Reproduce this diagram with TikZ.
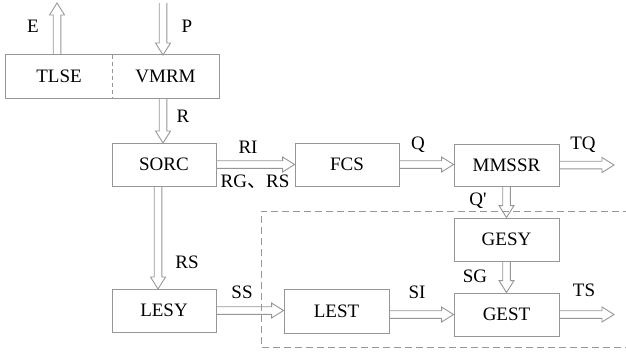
\documentclass[tikz,border=0pt]{standalone}
\usepackage{fontspec}
\setmainfont{Liberation Serif}
\newfontfamily\cjk{Noto Sans CJK SC}
\usetikzlibrary{calc}
\definecolor{lg}{RGB}{150,150,150}
\tikzset{
  box/.style={draw=lg, line width=0.9pt, minimum width=105pt, minimum height=43pt, inner sep=0pt, font=\fontsize{19}{20}\selectfont},
  plain/.style={minimum width=105pt, minimum height=43pt, inner sep=0pt, font=\fontsize{19}{20}\selectfont},
  lbl/.style={font=\fontsize{19}{20}\selectfont, inner sep=0pt},
  harrow/.style={draw=lg, line width=0.9pt, line join=miter},
  region/.style={draw=lg, line width=0.9pt, dash pattern=on 7pt off 4pt},
}
\newcommand\hollowarrow[2]{%
  \coordinate (hah) at ($(#2)!12pt!(#1)$);
  \draw[harrow] ($(#1)!3.8pt!90:(#2)$) -- ($(hah)!3.8pt!-90:(#1)$) -- ($(hah)!7.5pt!-90:(#1)$) -- (#2) -- ($(hah)!7.5pt!90:(#1)$) -- ($(hah)!3.8pt!90:(#1)$) -- ($(#1)!3.8pt!-90:(#2)$);}
\begin{document}
\begin{tikzpicture}[x=1pt,y=-1pt]
\useasboundingbox (0,0) rectangle (626,353);
% dashed region
\draw[region] (630,211) -- (261,211) -- (261,347) -- (630,347);
% top combined box
\node[plain, minimum width=106pt] (tlse) at (59,76.5) {TLSE};
\node[plain, minimum width=107pt] (vmrm) at (165.5,76.5) {VMRM};
\draw[lg, line width=0.9pt] (tlse.north west) rectangle (vmrm.south east);
\draw[lg, line width=0.9pt, dash pattern=on 4pt off 3pt] (tlse.north east) -- (tlse.south east);
% boxes
\node[box, minimum width=104pt] (sorc) at (164,164.5) {SORC};
\node[box, minimum width=104pt] (fcs) at (347,164.5) {FCS};
\node[box, minimum height=42pt] (mmssr) at (506.5,165) {MMSSR};
\node[box] (gesy) at (506.5,239.5) {GESY};
\node[box] (gest) at (506.5,314.5) {GEST};
\node[box, minimum width=104pt] (lesy) at (164,310.5) {LESY};
\node[box, minimum height=44pt] (lest) at (336.5,311) {LEST};
% free ends and offsets
\coordinate (eb) at (57,55);
\coordinate (et) at (57,3);
\coordinate (pt) at (163,3);
\coordinate (pb) at (163,55);
\coordinate (rt) at (163,98);
\coordinate (rb) at (163,143);
\coordinate (rst) at (158,186);
\coordinate (rsb) at (158,289);
\coordinate (tqe) at (614,165);
\coordinate (tse) at (614,314.5);
% arrows
\hollowarrow{eb}{et}
\hollowarrow{pt}{pb}
\hollowarrow{rt}{rb}
\hollowarrow{sorc.east}{fcs.west}
\hollowarrow{fcs.east}{mmssr.west |- fcs.east}
\hollowarrow{mmssr.east}{tqe}
\hollowarrow{mmssr.south}{gesy.north}
\hollowarrow{rst}{rsb}
\hollowarrow{lesy.east}{lest.west |- lesy.east}
\hollowarrow{lest.east |- gest.west}{gest.west}
\hollowarrow{gesy.south}{gest.north}
\hollowarrow{gest.east}{tse}
% labels
\node[lbl] (le) at (33,26) {E};
\node[lbl] (lp) at (187,26) {P};
\node[lbl] (lr) at (183,116) {R};
\node[lbl] (lri) at (248,147) {RI};
\node[lbl] (lrg) at (255,182) {RG{\cjk 、}RS};
\node[lbl] (lq) at (418,145) {Q};
\node[lbl] (ltq) at (583,145) {TQ};
\node[lbl] (lqp) at (478,201) {Q\textquotesingle};
\node[lbl] (lrs) at (187,262) {RS};
\node[lbl] (lss) at (242,292) {SS};
\node[lbl] (lsi) at (417,292) {SI};
\node[lbl] (lsg) at (475,276) {SG};
\node[lbl] (lts) at (584,290) {TS};
\end{tikzpicture}
\end{document}
